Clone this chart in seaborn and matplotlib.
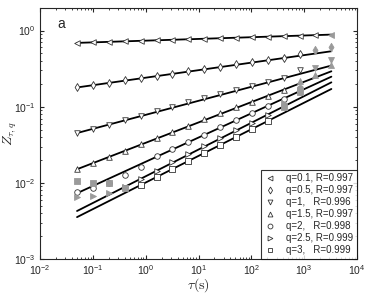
import numpy as np
import pandas as pd
import seaborn as sns
import matplotlib.pyplot as plt
from matplotlib.lines import Line2D

# time scales (s)
tau = [0.05, 0.1, 0.2, 0.4, 0.8, 1.6, 3.2, 6.4, 12.8, 25.6, 51.2,
       102.4, 204.8, 409.6, 819.2, 1638.4, 3276.8]

q_labels = ["q=0.1, R=0.997", "q=0.5, R=0.997", "q=1,   R=0.996", "q=1.5, R=0.997",
            "q=2,   R=0.998", "q=2.5, R=0.999", "q=3,   R=0.999"]
markers = ["<", "d", "v", "^", "o", ">", "s"]

z_q01 = [0.689, 0.700, 0.711, 0.722, 0.733, 0.745, 0.757, 0.769, 0.780,
         0.793, 0.805, 0.818, 0.831, 0.844, 0.857, 0.871, 0.885]
z_q05 = [0.179, 0.192, 0.206, 0.221, 0.237, 0.254, 0.272, 0.292, 0.313,
         0.335, 0.359, 0.385, 0.412, 0.442, 0.490, 0.562, 0.610]
z_q1 = [0.0451, 0.0512, 0.0582, 0.0661, 0.0760, 0.0870, 0.100, 0.114, 0.129,
        0.146, 0.164, 0.185, 0.210, 0.240, 0.300, 0.326, 0.410]
z_q15 = [0.0151, 0.0182, 0.0219, 0.0264, 0.0320, 0.0390, 0.0470, 0.0565, 0.0685,
         0.0820, 0.0980, 0.117, 0.138, 0.168, 0.220, 0.264, 0.357]
z_q2 = [0.0075, 0.0086, 0.0101, 0.0127, 0.0164, 0.0222, 0.0276, 0.0345, 0.0430,
        0.0535, 0.0665, 0.0825, 0.103, 0.128, 0.178]
z_q25 = [0.0066, 0.0068, 0.0074, 0.00885, 0.0113, 0.0144, 0.0186, 0.0238, 0.0305,
         0.0385, 0.0490, 0.0620, 0.0789, 0.113, 0.168]
z_q3 = [0.0107, 0.0100, 0.0100, 0.0086, 0.00936, 0.0119, 0.0152, 0.0196, 0.0250,
        0.0318, 0.0400, 0.0509, 0.0649, 0.100, 0.158]
z_all = [z_q01, z_q05, z_q1, z_q15, z_q2, z_q25, z_q3]

# points left out of the fit (grey filled)
excluded = [[16], [15, 16], [15, 16], [14, 15, 16], [14], [0, 1, 2, 13, 14], [0, 1, 2, 3, 13, 14]]

# fitted power laws, value at first and last tau
fit_tau = [0.05, 3276.8]
fit_start = [0.689, 0.179, 0.0451, 0.0151, 0.00731, 0.00427, 0.00355]
fit_end = [0.885, 0.535, 0.347, 0.292, 0.248, 0.209, 0.171]

sns.set_style("ticks")
plt.rcParams["font.family"] = ["Liberation Sans", "DejaVu Sans"]
plt.rcParams["mathtext.fontset"] = "cm"

fig = plt.figure(figsize=(3.68, 2.94), dpi=100)
ax = fig.add_axes([0.109, 0.119, 0.861, 0.855])

handles = []
for i, z in enumerate(z_all):
    df = pd.DataFrame({"tau": tau[:len(z)], "z": z})
    df["grey"] = [k in excluded[i] for k in range(len(z))]
    fit = pd.DataFrame({"tau": fit_tau, "z": [fit_start[i], fit_end[i]]})
    sns.lineplot(data=fit, x="tau", y="z", color="black", lw=1.3, ax=ax, zorder=2)
    op = df[~df["grey"]]
    gr = df[df["grey"]]
    ax.scatter(op["tau"], op["z"], marker=markers[i], s=16, facecolors="white",
               edgecolors="#333333", linewidths=0.6, zorder=3)
    ax.scatter(gr["tau"], gr["z"], marker=markers[i], s=18, facecolors="#9a9a9a",
               edgecolors="#9a9a9a", linewidths=0.6, zorder=3)
    handles.append(Line2D([], [], ls="none", marker=markers[i], ms=3.5, mfc="white",
                          mec="#333333", mew=0.6, label=q_labels[i]))

ax.set_xscale("log")
ax.set_yscale("log")
ax.set_xlim(1e-2, 1e4)
ax.set_ylim(1e-3, 2)
ax.tick_params(which="both", direction="in", top=True, right=True, labelsize=7.5)
ax.tick_params(which="major", length=3)
ax.tick_params(which="minor", length=1.5)
ax.tick_params(axis="x", pad=3)
ax.set_xlabel(r"$\tau(\mathrm{s})$", fontsize=10)
ax.set_ylabel(r"$Z_{\tau,q}$", fontsize=10)
ax.xaxis.set_label_coords(0.5, -0.07)
ax.yaxis.set_label_coords(-0.068, 0.5)
ax.text(0.055, 0.92, "a", transform=ax.transAxes, fontsize=10)

leg = ax.legend(handles=handles, loc="lower right", fontsize=7, frameon=True,
                fancybox=False, edgecolor="black", borderaxespad=0, handlelength=1.2,
                handletextpad=1.0, labelspacing=0.2, borderpad=0.4)
leg.get_frame().set_linewidth(0.8)

fig.savefig("out.png", dpi=100)
